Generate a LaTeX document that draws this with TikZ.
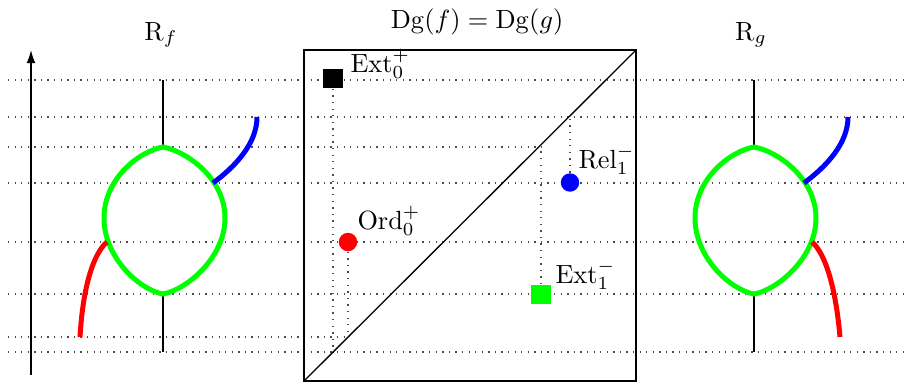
\documentclass[tikz,border=0pt]{standalone}
\usetikzlibrary{arrows.meta,backgrounds}
\definecolor{pgreen}{RGB}{0,255,0}
\definecolor{pblue}{RGB}{0,0,255}
\definecolor{pred}{RGB}{255,0,0}
\begin{document}
\begin{tikzpicture}[x=0.38pt,y=-0.38pt,
  level/.style={dotted, line width=0.5pt, black!70},
  stem/.style={line width=0.6pt},
  curve/.style={line width=1.9pt},
  sq/.style={rectangle, inner sep=0pt, minimum size=7.4pt},
  dot/.style={circle, inner sep=0pt, minimum size=7pt},
  lab/.style={anchor=base west, inner sep=0pt},
  ttl/.style={anchor=base, inner sep=0pt},
  reeb/.pic={
    \draw[stem] (163,80) -- (163,147);
    \draw[stem] (163,294) -- (163,352);
    \draw[curve, pgreen] (163,147) .. controls (186,151) and (225,178) .. (225,218)
      .. controls (225,258) and (186,290) .. (163,294)
      .. controls (140,290) and (104,258) .. (104,218)
      .. controls (104,178) and (140,151) .. cycle;
    \draw[curve, pblue] (213,183) .. controls (236,166) and (257,143) .. (257,117);
  }]
\useasboundingbox (0,0) rectangle (906,385);

% titles
\node[ttl] (tf) at (161,40) {$\mathrm{R}_f$};
\node[ttl] (tg) at (751,40) {$\mathrm{R}_g$};
\node[ttl] (td) at (477,28) {$\mathrm{Dg}(f) = \mathrm{Dg}(g)$};

% level coordinates
\coordinate (lv117) at (0,117);
\coordinate (lv147) at (0,147);
\coordinate (lv337) at (0,337);
\coordinate (lv352) at (0,352);

% persistence diagram
\draw[line width=0.8pt] (304,50) rectangle (636,381);
\coordinate (dlo) at (304,381);
\coordinate (dhi) at (636,50);
\draw[line width=0.5pt] (dlo) -- (dhi);

\node[sq, fill=black] (e0) at (333,78.5) {};
\node[dot, fill=pred] (o0) at (348,242) {};
\node[dot, fill=pblue] (r1) at (570,182.5) {};
\node[sq, fill=pgreen] (e1) at (541,294.5) {};

\node[lab] (le0) at (350,72) {$\mathrm{Ext}_0^+$};
\node[lab] (lo0) at (357,229) {$\mathrm{Ord}_0^+$};
\node[lab] (lr1) at (578,168) {$\mathrm{Rel}_1^-$};
\node[lab] (le1) at (555,283) {$\mathrm{Ext}_1^-$};

\begin{scope}[on background layer]
  \foreach \y in {80,117,183,242,294,352}
    \draw[level] (8,\y) -- (904,\y);
  \draw[level] (8,147) -- (e1 |- lv147);
  \draw[level] (8,337) -- (o0 |- lv337);
  \draw[level] (e0) -- (e0 |- lv352);
  \draw[level] (o0) -- (o0 |- lv337);
  \draw[level] (r1) -- (r1 |- lv117);
  \draw[level] (e1) -- (e1 |- lv147);
\end{scope}

% vertical axis
\coordinate (ax0) at (31,375);
\coordinate (ax1) at (31,50);
\draw[line width=0.6pt, -{Latex[length=5pt,width=3.4pt]}] (ax0) -- (ax1);

% left Reeb graph
\pic at (0,0) {reeb};
\draw[curve, pred] (107,242) .. controls (94,253) and (83,285) .. (80,337);

% right Reeb graph
\pic at (591,0) {reeb};
\begin{scope}[shift={(591,0)}]
\draw[curve, pred] (221,242) .. controls (235,254) and (245,290) .. (249,337);
\end{scope}
\end{tikzpicture}
\end{document}
